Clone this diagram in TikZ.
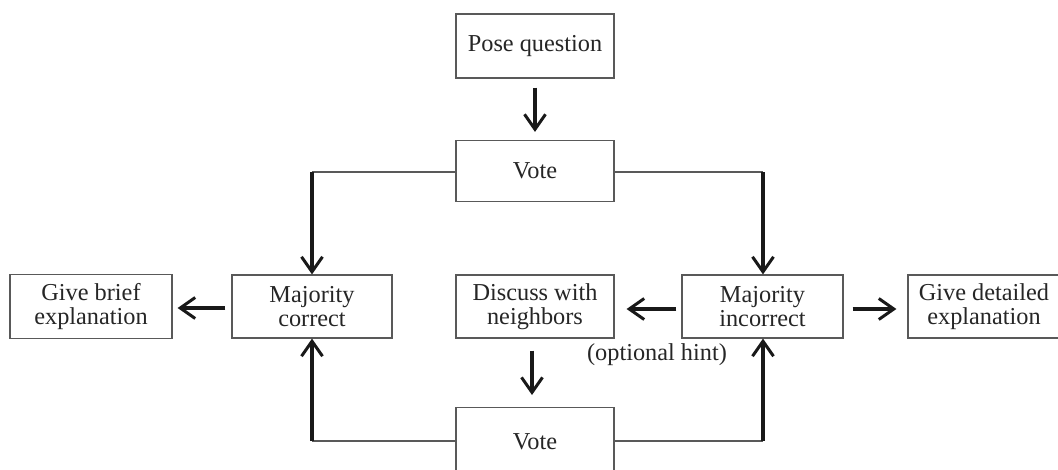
\documentclass[tikz,border=0pt]{standalone}
\usepackage{fontspec}
\setmainfont{Liberation Serif}
\usetikzlibrary{arrows.meta}
\begin{document}
\begin{tikzpicture}[x=1pt,y=-1pt,
  box/.style={draw=black!65,line width=1.2pt,fill=white,inner sep=0pt,align=center,
    font=\fontsize{24.3}{24}\selectfont,text=black!85},
  arr/.style={draw=black!90,line width=3.2pt,-{Straight Barb[length=15pt,width=21pt,line width=3pt]}},
  thin/.style={draw=black!65,line width=1.4pt}]
\useasboundingbox (0,0) rectangle (1058,469);
\begin{scope}
\clip (0,0) rectangle (1058,469);
\node[box,minimum width=158pt,minimum height=64pt] (pose) at (535,46) {Pose question};
\node[box,minimum width=158pt,minimum height=61pt] (vote1) at (535,171) {Vote};
\node[box,minimum width=162pt,minimum height=64pt] (gbe) at (91,306.5) {Give brief\\explanation};
\node[box,minimum width=160pt,minimum height=63pt] (mc) at (312,306.5) {Majority\\correct};
\node[box,minimum width=158pt,minimum height=63pt] (disc) at (535,306.5) {Discuss with\\neighbors};
\node[box,minimum width=161pt,minimum height=63pt] (mi) at (762.5,306.5) {Majority\\incorrect};
\node[box,minimum width=152pt,minimum height=63pt] (gde) at (984,306.5) {Give detailed\\explanation};
\node[box,minimum width=158pt,minimum height=68pt,anchor=north] (vote2) at (535,407) {\raisebox{-4pt}{Vote}};
\node[font=\fontsize{24.3}{24}\selectfont,text=black!85,inner sep=0pt] (hint) at (657,355) {(optional hint)};
\coordinate (cl1) at (312,172);
\coordinate (cr1) at (763,172);
\coordinate (cl2) at (312,441);
\coordinate (cr2) at (763,441);
\draw[arr,shorten <=9pt,shorten >=8pt] (pose.south) -- (vote1.north);
\draw[thin] (vote1.west |- cl1) -- (cl1);
\draw[thin] (vote1.east |- cr1) -- (cr1);
\draw[arr] (cl1) -- (mc.north);
\draw[arr] (cr1) -- (cr1 |- mi.north);
\draw[arr,shorten <=6pt,shorten >=5pt] (mc.west |- 0,308) -- (gbe.east |- 0,308);
\draw[arr,shorten <=5pt,shorten >=12pt] (mi.west |- 0,309) -- (disc.east |- 0,309);
\draw[arr,shorten <=9pt,shorten >=11pt] (mi.east |- 0,309) -- (gde.west |- 0,309);
\draw[arr,shorten <=12pt,shorten >=12pt] (disc.south -| 532,0) -- (vote2.north -| 532,0);
\draw[thin] (vote2.west |- cl2) -- (cl2);
\draw[thin] (vote2.east |- cr2) -- (cr2);
\draw[arr] (cl2) -- (mc.south);
\draw[arr] (cr2) -- (cr2 |- mi.south);
\end{scope}
\end{tikzpicture}
\end{document}
